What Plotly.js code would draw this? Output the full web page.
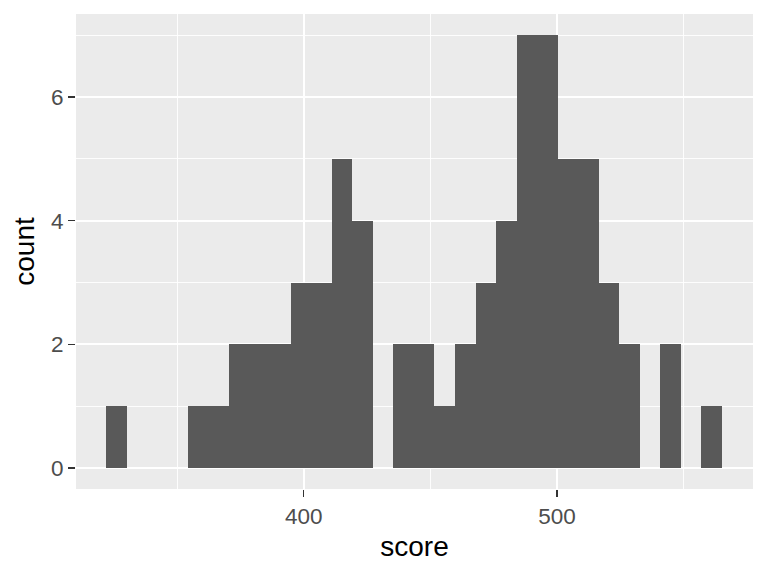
<!DOCTYPE html>
<html>
<head>
<meta charset="utf-8">
<script src="https://cdn.plot.ly/plotly-3.0.1.min.js"></script>
<style>html,body{margin:0;padding:0;background:#fff;}#chart{width:768px;height:576px;}</style>
</head>
<body>
<div id="chart"></div>
<script>
// Histogram of score (30 bins)
var binCenters = [326.0, 334.1, 342.2, 350.3, 358.4, 366.5, 374.6, 382.7, 390.8, 398.9,
                  407.0, 415.1, 423.2, 431.3, 439.4, 447.5, 455.6, 463.8, 471.9, 480.0,
                  488.1, 496.2, 504.3, 512.4, 520.5, 528.6, 536.7, 544.8, 552.9, 561.0];
var counts = [1, 0, 0, 0, 1, 1, 2, 2, 2, 3,
              3, 5, 4, 0, 2, 2, 1, 2, 3, 4,
              7, 7, 5, 5, 3, 2, 0, 2, 0, 1];
var binWidth = 8.106;
var xTickVals = [400, 500];
var yTickVals = [0, 2, 4, 6];

var trace = {
  type: 'bar',
  x: binCenters,
  y: counts,
  width: binCenters.map(function(){ return binWidth; }),
  marker: {color: '#595959', line: {width: 0}},
  hoverinfo: 'x+y'
};

var font = 'Liberation Sans, Arial, sans-serif';
var layout = {
  width: 768, height: 576,
  margin: {l: 76, r: 15, t: 14, b: 87, pad: 0},
  paper_bgcolor: '#ffffff',
  plot_bgcolor: '#EBEBEB',
  showlegend: false,
  bargap: 0,
  font: {family: font},
  xaxis: {
    range: [310.1, 577.4],
    tickmode: 'array', tickvals: xTickVals, ticktext: xTickVals.map(String),
    showgrid: true, gridcolor: '#ffffff', gridwidth: 1.8,
    zeroline: false, showline: false,
    ticks: 'outside', ticklen: 7, tickwidth: 1.4, tickcolor: '#333333',
    tickfont: {family: font, size: 22.5, color: '#4D4D4D'},
    minor: {tickmode: 'array', tickvals: [350, 450, 550], showgrid: true, gridcolor: '#ffffff', gridwidth: 0.9, ticks: ''},
    title: {text: 'score', font: {family: font, size: 28, color: '#000000'}, standoff: 8},
    fixedrange: true
  },
  yaxis: {
    range: [-0.34, 7.343],
    tickmode: 'array', tickvals: yTickVals, ticktext: yTickVals.map(String),
    showgrid: true, gridcolor: '#ffffff', gridwidth: 1.8,
    zeroline: false, showline: false,
    ticks: 'outside', ticklen: 7, tickwidth: 1.4, tickcolor: '#333333',
    tickfont: {family: font, size: 22.5, color: '#4D4D4D'},
    minor: {tickmode: 'array', tickvals: [1, 3, 5, 7], showgrid: true, gridcolor: '#ffffff', gridwidth: 0.9, ticks: ''},
    title: {text: 'count', font: {family: font, size: 28, color: '#000000'}, standoff: 8},
    fixedrange: true
  }
};

Plotly.newPlot('chart', [trace], layout, {displayModeBar: false, staticPlot: true});
</script>
</body>
</html>
